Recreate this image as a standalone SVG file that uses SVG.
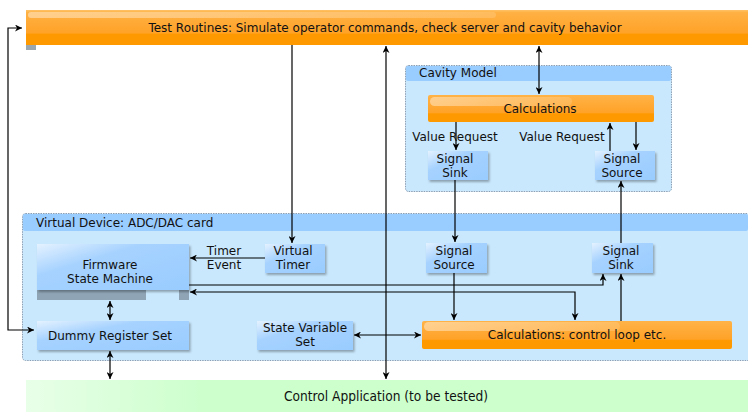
<svg xmlns="http://www.w3.org/2000/svg" width="748" height="412" viewBox="0 0 748 412">
<defs>
<linearGradient id="gOrange" x1="0" y1="0" x2="0" y2="1">
<stop offset="0" stop-color="#ffb347"/><stop offset="0.65" stop-color="#ffa228"/><stop offset="0.7" stop-color="#ff9900"/><stop offset="1" stop-color="#ff9900"/>
</linearGradient>
<linearGradient id="gGloss" x1="0" y1="0" x2="1" y2="0">
<stop offset="0" stop-color="#ffffff" stop-opacity="0.4"/><stop offset="1" stop-color="#ffffff" stop-opacity="0.15"/>
</linearGradient>
<linearGradient id="gBlue" x1="0" y1="0" x2="1" y2="1">
<stop offset="0" stop-color="#e4f2ff"/><stop offset="0.35" stop-color="#a6d2ff"/><stop offset="1" stop-color="#99ccff"/>
</linearGradient>
<linearGradient id="gGreen" x1="0" y1="0" x2="1" y2="0">
<stop offset="0" stop-color="#e8ffe8"/><stop offset="0.25" stop-color="#ccffcc"/><stop offset="1" stop-color="#ccffcc"/>
</linearGradient>
<marker id="ah" viewBox="0 0 10 10" refX="10" refY="5" markerWidth="7" markerHeight="7" markerUnits="userSpaceOnUse" orient="auto-start-reverse">
<path d="M0,0 L10,5 L0,10 L3,5 Z" fill="#000"/>
</marker>
<filter id="sh" x="-10%" y="-10%" width="130%" height="140%">
<feDropShadow dx="1.5" dy="2" stdDeviation="1.2" flood-color="#000" flood-opacity="0.3"/>
</filter>
</defs>
<style>
text{font-family:"DejaVu Sans","Liberation Sans",sans-serif;font-size:12px;fill:#111}
.c{text-anchor:middle}
.grp{fill:#c9e8fd;stroke:#8a9fb4;stroke-width:1;stroke-dasharray:1.5,1}
.hdr{fill:#99ccff}
.node{fill:url(#gBlue);filter:url(#sh)}
.orange{fill:url(#gOrange)}
.gloss{fill:url(#gGloss)}
.ln{fill:none;stroke:#000;stroke-width:1.2}
.ca{font-family:"DejaVu Sans Condensed","DejaVu Sans","Liberation Sans Narrow",sans-serif;font-stretch:condensed;font-size:13.6px}
</style>

<g id="test-routines">
<rect x="26" y="45" width="10" height="5" fill="#9aa6b0"/>
<rect x="26" y="10" width="722" height="35" class="orange"/>
<rect x="26" y="10" width="722" height="1.5" fill="#ffbf60"/>
<rect x="28" y="12" width="468" height="6" rx="3" class="gloss"/>
<text x="385" y="32" class="c">Test Routines: Simulate operator commands, check server and cavity behavior</text>
</g>

<g id="cavity-model">
<rect x="405.5" y="65.5" width="266" height="126" rx="3" class="grp"/>
<rect x="406" y="66" width="265" height="15" rx="2" class="hdr"/>
<text x="419" y="77">Cavity Model</text>
</g>

<g id="virtual-device">
<rect x="22.5" y="213.5" width="730" height="147" rx="3" class="grp"/>
<rect x="23" y="214" width="725" height="17" rx="2" class="hdr"/>
<text x="36" y="227">Virtual Device: ADC/DAC card</text>
</g>

<g id="calc-cavity">
<rect x="428" y="95" width="226" height="27" rx="2" class="orange"/>
<rect x="430" y="97" width="142" height="9" rx="4.5" class="gloss"/>
<text x="540" y="113" class="c">Calculations</text>
</g>

<g id="cavity-signal-sink">
<rect x="428" y="151" width="60" height="29" class="node"/>
<text x="455" y="163" class="c">Signal</text>
<text x="455" y="177" class="c">Sink</text>
</g>

<g id="cavity-signal-source">
<rect x="595" y="151" width="60" height="29" class="node"/>
<text x="622" y="163" class="c">Signal</text>
<text x="622" y="177" class="c">Source</text>
</g>

<g id="firmware">
<rect x="37" y="290" width="109" height="10" fill="#8fa5b5"/>
<rect x="179" y="290" width="10" height="10" fill="#8fa5b5"/>
<rect x="37" y="244" width="152" height="46" class="node"/>
<text x="110" y="269" class="c">Firmware</text>
<text x="110" y="283" class="c">State Machine</text>
</g>

<g id="virtual-timer">
<rect x="265" y="244" width="60" height="29" class="node"/>
<text x="293" y="255" class="c">Virtual</text>
<text x="293" y="269" class="c">Timer</text>
</g>

<g id="vd-signal-source">
<rect x="426" y="243" width="61" height="30" class="node"/>
<text x="454" y="255" class="c">Signal</text>
<text x="454" y="269" class="c">Source</text>
</g>

<g id="vd-signal-sink">
<rect x="592" y="243" width="61" height="30" class="node"/>
<text x="621" y="255" class="c">Signal</text>
<text x="621" y="269" class="c">Sink</text>
</g>

<g id="dummy-register-set">
<rect x="37" y="321" width="152" height="29" class="node"/>
<text x="110" y="340" class="c">Dummy Register Set</text>
</g>

<g id="state-variable-set">
<rect x="257" y="321" width="96" height="29" class="node"/>
<text x="305" y="332" class="c">State Variable</text>
<text x="305" y="346" class="c">Set</text>
</g>

<g id="calc-control-loop">
<rect x="422" y="321" width="310" height="28" rx="2" class="orange"/>
<rect x="424" y="322" width="196" height="9" rx="4.5" class="gloss"/>
<text x="577" y="339" class="c">Calculations: control loop etc.</text>
</g>

<g id="control-application">
<rect x="26" y="380" width="722" height="32" fill="url(#gGreen)"/>
<text x="386" y="401" class="c ca">Control Application (to be tested)</text>
</g>

<g id="connectors">
<path class="ln" d="M22,28 H8 V330 H34" marker-start="url(#ah)" marker-end="url(#ah)"/>
<path class="ln" d="M292,45 V243" marker-end="url(#ah)"/>
<path class="ln" d="M386,46 V379" marker-start="url(#ah)" marker-end="url(#ah)"/>
<path class="ln" d="M539,46 V94" marker-start="url(#ah)" marker-end="url(#ah)"/>
<path class="ln" d="M456,122 V150" marker-end="url(#ah)"/>
<path class="ln" d="M610,151 V123" marker-end="url(#ah)"/>
<path class="ln" d="M636,122 V150" marker-end="url(#ah)"/>
<path class="ln" d="M455,180 V242" marker-end="url(#ah)"/>
<path class="ln" d="M621,243 V181" marker-end="url(#ah)"/>
<path class="ln" d="M265,258 H190" marker-end="url(#ah)"/>
<path class="ln" d="M189,285 H603 V274" marker-end="url(#ah)"/>
<path class="ln" d="M190,292 H575 V320" marker-start="url(#ah)" marker-end="url(#ah)"/>
<path class="ln" d="M454,273 V320" marker-end="url(#ah)"/>
<path class="ln" d="M621,321 V274" marker-end="url(#ah)"/>
<path class="ln" d="M110,301 V320" marker-start="url(#ah)" marker-end="url(#ah)"/>
<path class="ln" d="M354,335 H421" marker-start="url(#ah)" marker-end="url(#ah)"/>
<path class="ln" d="M110,351 V379" marker-start="url(#ah)" marker-end="url(#ah)"/>
</g>

<g id="labels">
<text x="224" y="255" class="c">Timer</text>
<text x="224" y="269" class="c">Event</text>
<text x="455" y="141" class="c">Value Request</text>
<text x="562" y="141" class="c">Value Request</text>
</g>
</svg>
